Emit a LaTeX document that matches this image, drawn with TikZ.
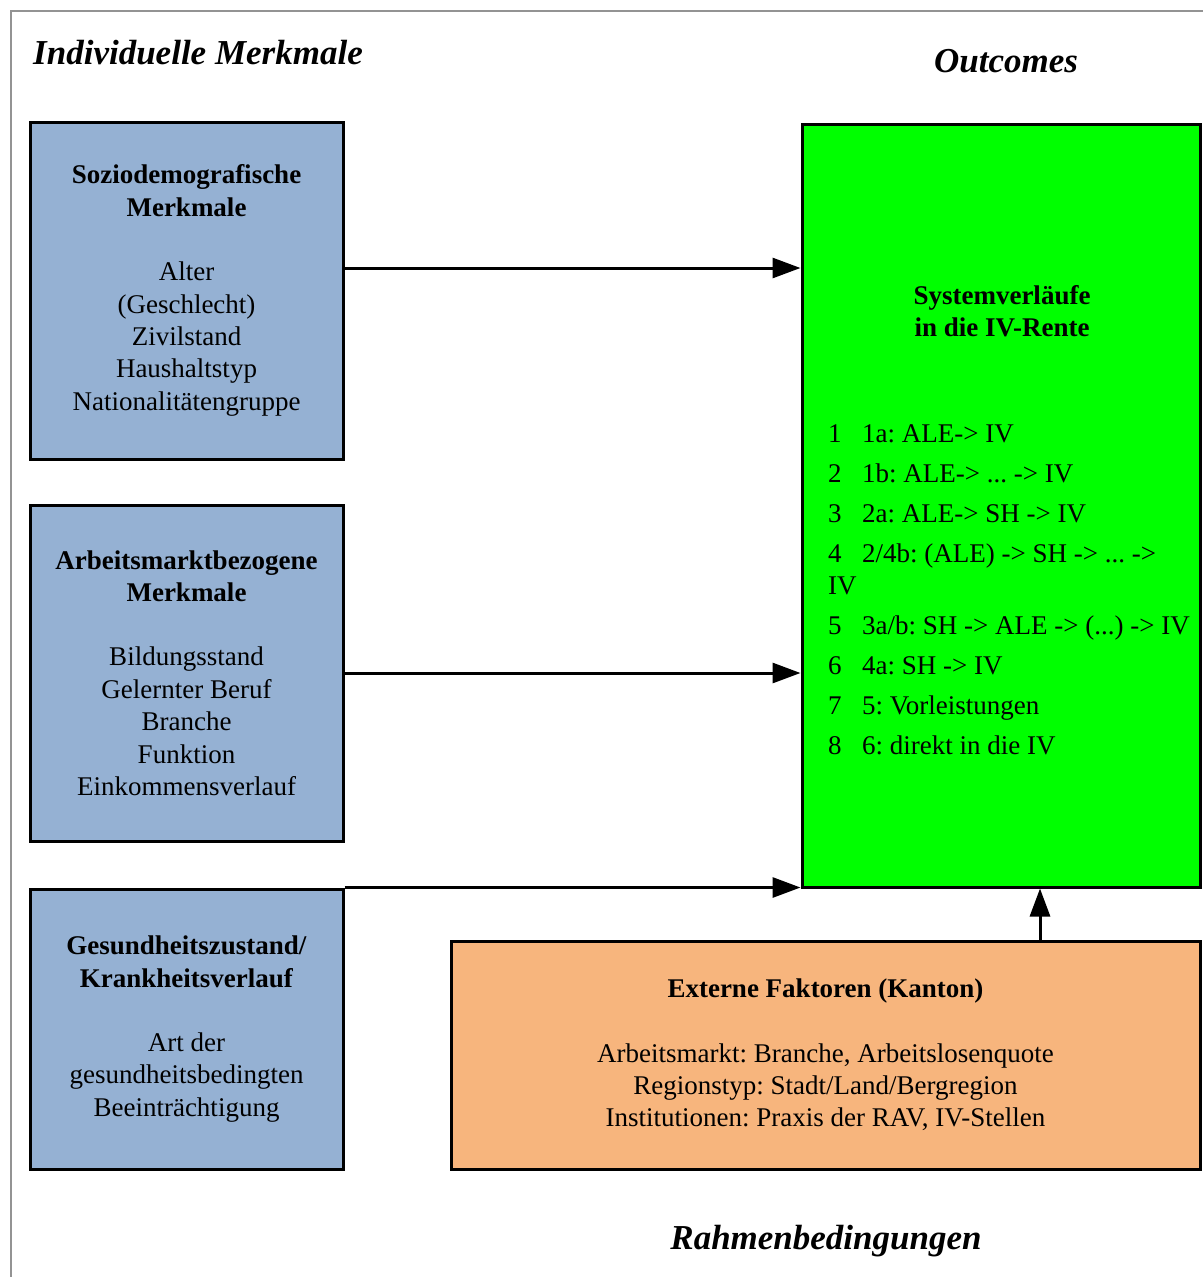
\documentclass[tikz,border=0pt]{standalone}
\usepackage{fontspec}
\setmainfont{Liberation Serif}
\usetikzlibrary{arrows.meta,shadows}
\definecolor{boxblue}{HTML}{95B1D3}
\definecolor{boxgreen}{HTML}{00FF00}
\definecolor{boxorange}{HTML}{F7B57D}
\newcommand\myfs{\fontsize{27}{32.4}\selectfont}
\frenchspacing
\begin{document}
\begin{tikzpicture}[x=1pt,y=-1pt,
  box/.style={draw=black, line width=3pt, align=center, font=\myfs, inner sep=0pt,
    drop shadow={shadow xshift=2pt, shadow yshift=-2pt, opacity=0.35, fill=gray}},
  txt/.style={font=\myfs, inner sep=0pt},
  conn/.style={line width=3pt, -{Triangle[length=28pt,width=20pt]}},
  head/.style={font=\fontsize{35}{42}\selectfont\bfseries\itshape, inner sep=0pt}]
\useasboundingbox (0,0) rectangle (1203,1277);
\draw[gray!85, line width=2pt] (11,1277) -- (11,11) -- (1203,11);

\node[head, anchor=base west] (hInd) at (33,64) {Individuelle Merkmale};
\node[head, anchor=base] (hOut) at (1006,72) {Outcomes};
\node[head, anchor=base] (hRahmen) at (826,1249) {Rahmenbedingungen};

\node[box, fill=boxblue, minimum width=313pt, minimum height=337pt] (b1) at (186.5,290.5)
  {\textbf{Soziodemografische}\\\textbf{Merkmale}\\[32pt]Alter\\(Geschlecht)\\Zivilstand\\Haushaltstyp\\Nationalitätengruppe};
\node[box, fill=boxblue, minimum width=313pt, minimum height=336pt] (b2) at (186.5,673)
  {\textbf{Arbeitsmarktbezogene}\\\textbf{Merkmale}\\[32pt]Bildungsstand\\Gelernter Beruf\\Branche\\Funktion\\Einkommensverlauf};
\node[box, fill=boxblue, minimum width=313pt, minimum height=280pt] (b3) at (186.5,1029)
  {\textbf{Gesundheitszustand/}\\\textbf{Krankheitsverlauf}\\[32pt]Art der\\gesundheitsbedingten\\Beeinträchtigung};

\node[box, fill=boxgreen, minimum width=398pt, minimum height=763pt] (green) at (1001,505.5) {};
\node[txt, align=center, font=\myfs\bfseries] (gtitle) at (1002,311) {Systemverläufe\\in die IV-Rente};
\node[txt, align=left, anchor=west] (glist) at (828,590) {%
\makebox[34pt][l]{1}1a: ALE-> IV\\[7.6pt]
\makebox[34pt][l]{2}1b: ALE-> ... -> IV\\[7.6pt]
\makebox[34pt][l]{3}2a: ALE-> SH -> IV\\[7.6pt]
\makebox[34pt][l]{4}2/4b: (ALE) -> SH -> ... ->\\
IV\\[7.6pt]
\makebox[34pt][l]{5}3a/b: SH -> ALE -> (...) -> IV\\[7.6pt]
\makebox[34pt][l]{6}4a: SH -> IV\\[7.6pt]
\makebox[34pt][l]{7}5: Vorleistungen\\[7.6pt]
\makebox[34pt][l]{8}6: direkt in die IV};

\node[box, fill=boxorange, minimum width=749pt, minimum height=228pt] (orange) at (825.5,1055)
  {\textbf{Externe Faktoren (Kanton)}\\[32pt]Arbeitsmarkt: Branche, Arbeitslosenquote\\Regionstyp: Stadt/Land/Bergregion\\Institutionen: Praxis der RAV, IV-Stellen};

\draw[conn] ([yshift=22.5pt]b1.east) -- ([yshift=22.5pt]b1.east -| green.west);
\draw[conn] (b2.east) -- (b2.east -| green.west);
\draw[conn] (b3.north east) -- (b3.north east -| green.west);
\coordinate (vfoot) at ([xshift=214.5pt]orange.north);
\draw[conn] (vfoot) -- (vfoot |- green.south);
\end{tikzpicture}
\end{document}
